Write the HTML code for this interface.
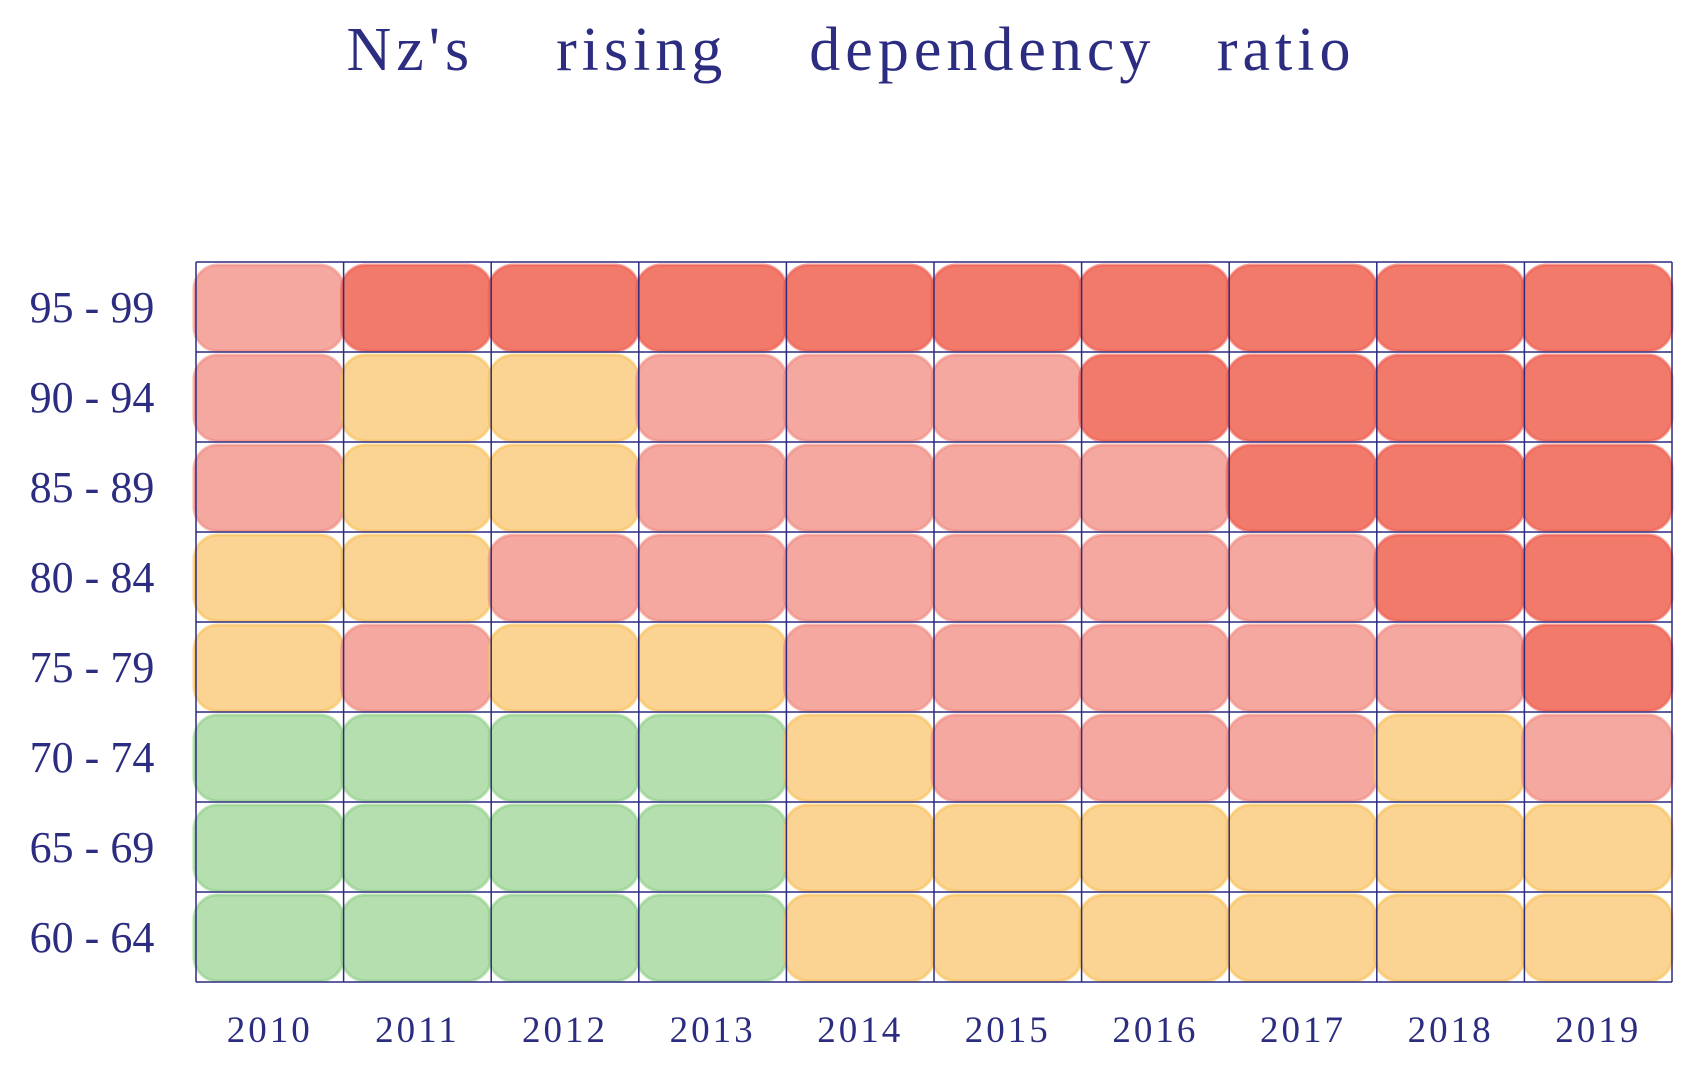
<!DOCTYPE html>
<html><head><meta charset="utf-8">
<style>
html,body{margin:0;padding:0;background:#fff;}
svg{display:block;}
text{font-family:"Liberation Serif",serif;fill:#2c2c80;}
</style></head>
<body>
<svg id="chart" width="1689" height="1080" viewBox="0 0 1689 1080">
<text x="851" y="70" text-anchor="middle" font-size="62" letter-spacing="5">Nz's &#160;&#160; rising &#160;&#160; dependency &#160; ratio</text>
<g id="cells"></g>
<g id="grid"></g>
<g id="ylabels"></g>
<g id="xlabels"></g>
</svg>
<script>
const years = ["2010","2011","2012","2013","2014","2015","2016","2017","2018","2019"];
const ages = ["95 - 99","90 - 94","85 - 89","80 - 84","75 - 79","70 - 74","65 - 69","60 - 64"];
const level9599 = [2,3,3,3,3,3,3,3,3,3];
const level9094 = [2,1,1,2,2,2,3,3,3,3];
const level8589 = [2,1,1,2,2,2,2,3,3,3];
const level8084 = [1,1,2,2,2,2,2,2,3,3];
const level7579 = [1,2,1,1,2,2,2,2,2,3];
const level7074 = [0,0,0,0,1,2,2,2,1,2];
const level6569 = [0,0,0,0,1,1,1,1,1,1];
const level6064 = [0,0,0,0,1,1,1,1,1,1];
const levels = [level9599,level9094,level8589,level8084,level7579,level7074,level6569,level6064];
const palette = ["#b5dfae","#fbd493","#f5a89f","#f27a6b"];
const edge = ["#8fcf85","#f9bf55","#f08a80","#ec5c4f"];

const X0=196, X1=1672, Y0=262, Y1=982;
const cw=(X1-X0)/years.length, ch=(Y1-Y0)/ages.length;
const xs=i=>X0+i*cw, ys=j=>Y0+j*ch;
const NS="http://www.w3.org/2000/svg";
const mk=(t,a)=>{const e=document.createElementNS(NS,t);for(const k in a)e.setAttribute(k,a[k]);return e;};

const cells=document.getElementById('cells');
levels.forEach((row,j)=>row.forEach((v,i)=>{
  const r=mk('rect',{x:xs(i)-2,y:ys(j)+3,width:cw+2,height:ch-4,rx:24,fill:palette[v],stroke:edge[v],'stroke-width':3,'stroke-opacity':0.6});
  
  
  cells.appendChild(r);
}));

const grid=document.getElementById('grid');
for(let i=0;i<=years.length;i++){
  const l=mk('line',{x1:xs(i),x2:xs(i),y1:Y0,y2:Y1,stroke:'#2c2c80','stroke-width':1.5});
  
  
  grid.appendChild(l);
}
for(let j=0;j<=ages.length;j++){
  const l=mk('line',{x1:X0,x2:X1,y1:ys(j),y2:ys(j),stroke:'#2c2c80','stroke-width':1.5});
  
  
  grid.appendChild(l);
}
const yl=document.getElementById('ylabels');
ages.forEach((a,j)=>{
  const t=mk('text',{x:92,y:ys(j)+ch/2+15,'text-anchor':'middle','font-size':44});
  t.textContent=a;
  
  
  yl.appendChild(t);
});
const xl=document.getElementById('xlabels');
years.forEach((y,i)=>{
  const t=mk('text',{x:xs(i)+cw/2,y:1042,'text-anchor':'middle','font-size':37,'letter-spacing':3});
  t.textContent=y;
  
  
  xl.appendChild(t);
});
</script>
</body></html>
